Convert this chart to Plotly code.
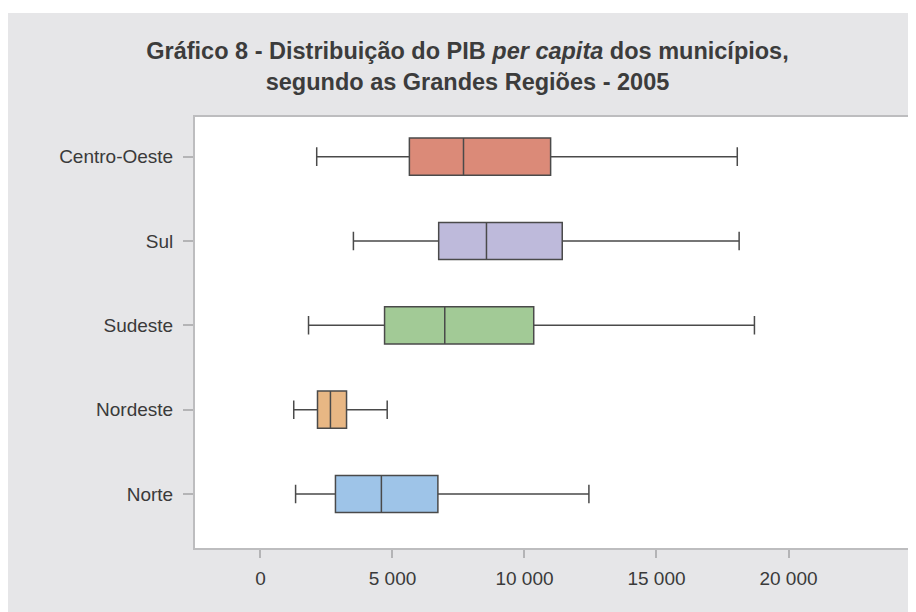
import plotly.graph_objects as go

regions = ["Norte", "Nordeste", "Sudeste", "Sul", "Centro-Oeste"]
lower = [1330, 1260, 1820, 3520, 2130]
q1 = [2840, 2160, 4700, 6750, 5640]
median = [4580, 2650, 6980, 8560, 7690]
q3 = [6720, 3260, 10350, 11430, 10990]
upper = [12440, 4800, 18710, 18130, 18060]
colors = ["#9ec4e8", "#e8b784", "#a2ca96", "#bebadb", "#db8a78"]
x_tickvals = [0, 5000, 10000, 15000, 20000]

FONT = "Liberation Sans, Arial, sans-serif"

W, H = 916, 612
ML, MT = 187, 109
PR, PB = 902.7, 539.7  # plot right / bottom in figure px
MR, MB = W - PR, H - PB
PW, PH = PR - ML, PB - MT


def px(xf):
    return (xf - ML) / PW


def py(yf):
    return (PB - yf) / PH


fig = go.Figure()
for i, r in enumerate(regions):
    fig.add_trace(go.Box(
        y=[r], q1=[q1[i]], median=[median[i]], q3=[q3[i]],
        lowerfence=[lower[i]], upperfence=[upper[i]],
        orientation="h", fillcolor=colors[i],
        line=dict(color="#4a4a4a", width=1.5),
        width=0.44, whiskerwidth=0.5, boxpoints=False,
        showlegend=False, hoverinfo="skip",
    ))

fig.update_layout(
    width=W, height=H,
    margin=dict(l=ML, r=MR, t=MT, b=MB, autoexpand=False),
    paper_bgcolor="white", plot_bgcolor="white",
    separators=", ",
    boxmode="overlay",
    font=dict(family=FONT, size=19, color="#3a3a3a"),
    title=dict(
        text="Gráfico 8 - Distribuição do PIB <i>per capita</i> dos municípios,<br>segundo as Grandes Regiões - 2005",
        font=dict(family=FONT, size=23.5, color="#3c3c3c", weight="bold"),
        xref="container", x=459.5 / W, xanchor="center",
        yref="container", y=1 - 51 / H, yanchor="top",
    ),
    shapes=[
        dict(type="rect", xref="paper", yref="paper", layer="below",
             x0=px(-20), x1=px(W + 20), y0=py(H + 20), y1=py(5),
             fillcolor="#e6e6e8", line=dict(width=0)),
        dict(type="rect", xref="paper", yref="paper", layer="below",
             x0=0, x1=1, y0=0, y1=1,
             fillcolor="white", line=dict(width=0)),
    ],
    xaxis=dict(
        range=[-2480, 24640], tickvals=x_tickvals, tickformat=",d",
        showgrid=False, zeroline=False,
        showline=True, linecolor="#bdbdbf", linewidth=2, mirror=True,
        ticks="outside", ticklen=8, tickcolor="#b4b4b6", tickwidth=1.5,
        ticklabelstandoff=4,
    ),
    yaxis=dict(
        type="category", categoryorder="array", categoryarray=regions,
        range=[-0.64, 4.47],
        showgrid=False, zeroline=False,
        showline=True, linecolor="#bdbdbf", linewidth=2, mirror=True,
        ticks="outside", ticklen=10, tickcolor="#b4b4b6", tickwidth=1.5,
        ticklabelstandoff=6,
    ),
)

fig.write_html("out.html")
